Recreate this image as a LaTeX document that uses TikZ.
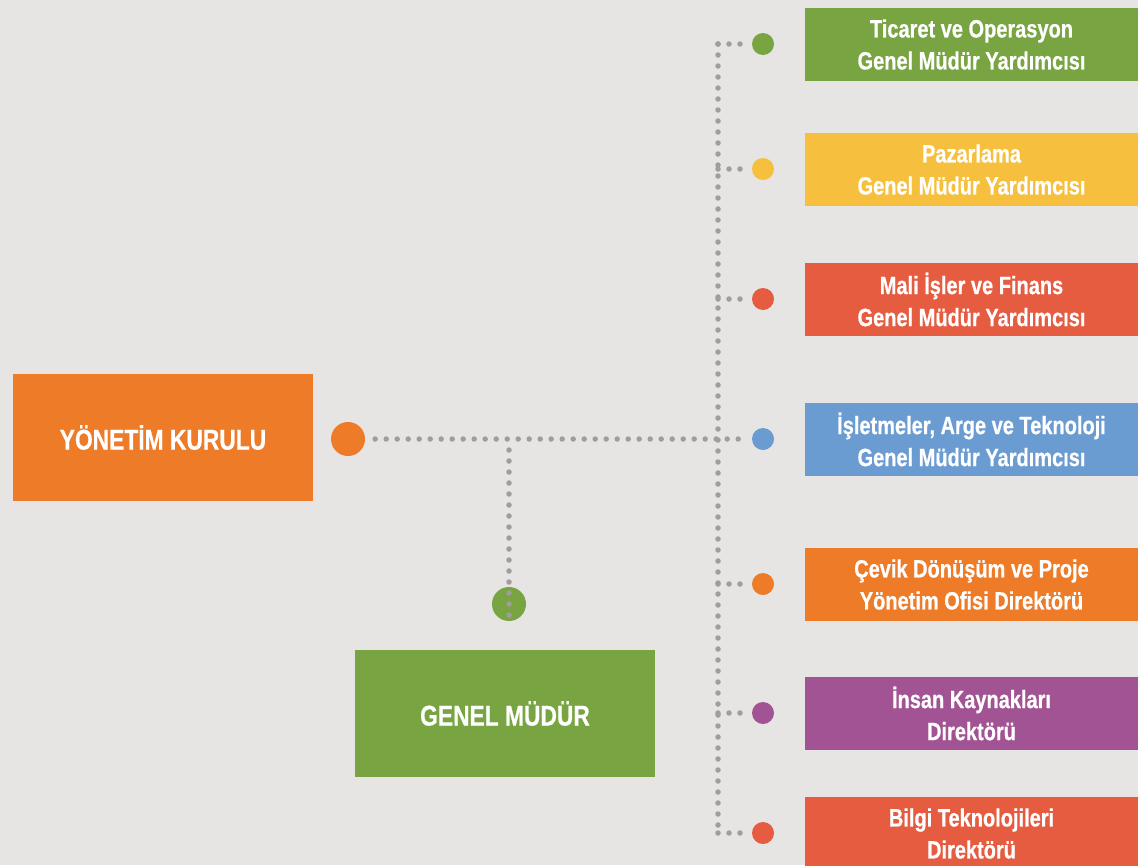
\documentclass[tikz,border=0pt]{standalone}
\usepackage{fontspec}
\setmainfont{Liberation Sans}
\newfontfamily\condfont[FakeStretch=0.80,FakeBold=0.6]{Liberation Sans}
\definecolor{bg}{HTML}{E6E5E3}
\definecolor{cgreen}{HTML}{78A441}
\definecolor{cyellow}{HTML}{F6C03E}
\definecolor{cred}{HTML}{E55C41}
\definecolor{cblue}{HTML}{6A9BD1}
\definecolor{corange}{HTML}{ED7B28}
\definecolor{cpurple}{HTML}{A25393}
\definecolor{cdots}{HTML}{A09CA0}
\tikzset{
  unitbox/.style={fill=#1, draw=none, minimum width=333pt, minimum height=73pt,
    inner sep=0pt, align=center, text=white,
    font=\condfont\bfseries\fontsize{25}{32}\selectfont},
  headbox/.style={fill=#1, draw=none, minimum width=300pt, minimum height=127pt,
    inner sep=0pt, text=white, font=\condfont\bfseries\fontsize{28.5}{34}\selectfont},
  smalldot/.style={circle, fill=#1, draw=none, minimum size=22pt, inner sep=0pt},
  bigdot/.style={circle, fill=#1, draw=none, minimum size=34pt, inner sep=0pt},
  dotline/.style={draw=cdots, line width=5.5pt, line cap=round, dash pattern=on 0pt off 11pt}
}
\begin{document}
\begin{tikzpicture}[x=1pt,y=-1pt]
  \clip (0,0) rectangle (1138,865);
  \fill[bg] (0,0) rectangle (1138,865);

  % unit boxes on the right
  \node[unitbox=cgreen]  (u1) at (971.5,44.5)  {Ticaret ve Operasyon\\Genel Müdür Yardımcısı};
  \node[unitbox=cyellow] (u2) at (971.5,169.5) {Pazarlama\\Genel Müdür Yardımcısı};
  \node[unitbox=cred]    (u3) at (971.5,299.5) {Mali İşler ve Finans\\Genel Müdür Yardımcısı};
  \node[unitbox=cblue]   (u4) at (971.5,439.5) {İşletmeler, Arge ve Teknoloji\\Genel Müdür Yardımcısı};
  \node[unitbox=corange] (u5) at (971.5,584.5) {Çevik Dönüşüm ve Proje\\Yönetim Ofisi Direktörü};
  \node[unitbox=cpurple] (u6) at (971.5,713.5) {İnsan Kaynakları\\Direktörü};
  \node[unitbox=cred]    (u7) at (971.5,833.5) {Bilgi Teknolojileri\\Direktörü};

  % head boxes
  \node[headbox=corange] (yk) at (163,437.5) {YÖNETİM KURULU};
  \node[headbox=cgreen]  (gm) at (505,713.5) {GENEL MÜDÜR};

  % spine and branch points
  \coordinate (sp) at (718,0);
  \coordinate (gmx) at (509,0);

  % dots of the units
  \node[smalldot=cgreen]  (d1) at (763,44)  {};
  \node[smalldot=cyellow] (d2) at (763,169) {};
  \node[smalldot=cred]    (d3) at (763,299) {};
  \node[smalldot=cblue]   (d4) at (763,439) {};
  \node[smalldot=corange] (d5) at (763,584) {};
  \node[smalldot=cpurple] (d6) at (763,713) {};
  \node[smalldot=cred]    (d7) at (763,833) {};

  \node[bigdot=corange] (ykdot) at (348,439) {};
  \node[bigdot=cgreen]  (gmdot) at (509,604) {};

  % dotted connectors
  \draw[dotline] (d1 -| sp) -- (d7 -| sp);
  \foreach \i in {1,2,3,5,6,7} {
    \draw[dotline] (d\i -| sp) -- ([xshift=-3pt]d\i.west);
  }
  \draw[dotline] ([xshift=10pt]ykdot.east) -- ([xshift=-3pt]d4.west);
  \draw[dotline] ([yshift=-11pt]ykdot -| gmx) -- ([yshift=-2pt]gmdot.south);
\end{tikzpicture}
\end{document}
